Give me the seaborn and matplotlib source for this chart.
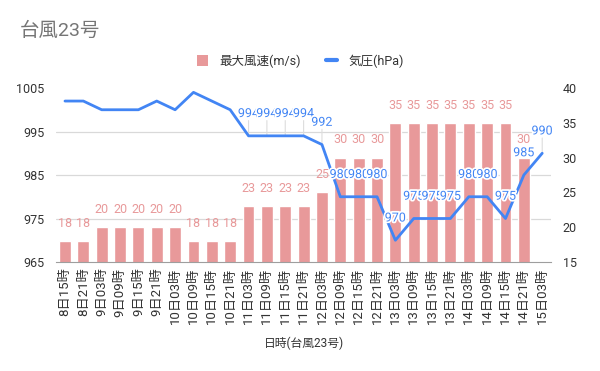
import numpy as np
import pandas as pd
import matplotlib
matplotlib.use("Agg")
import matplotlib.pyplot as plt
import matplotlib.patheffects as pe
from matplotlib.lines import Line2D
from matplotlib.patches import Patch
import seaborn as sns

# data
times = ["8日15時", "8日21時", "9日03時", "9日09時", "9日15時", "9日21時",
         "10日03時", "10日09時", "10日15時", "10日21時",
         "11日03時", "11日09時", "11日15時", "11日21時",
         "12日03時", "12日09時", "12日15時", "12日21時",
         "13日03時", "13日09時", "13日15時", "13日21時",
         "14日03時", "14日09時", "14日15時", "14日21時", "15日03時"]
wind = [18, 18, 20, 20, 20, 20, 20, 18, 18, 18,
        23, 23, 23, 23, 25, 30, 30, 30,
        35, 35, 35, 35, 35, 35, 35, 30, np.nan]
pressure = [1002, 1002, 1000, 1000, 1000, 1002, 1000, 1004, 1002, 1000,
            994, 994, 994, 994, 992, 980, 980, 980,
            970, 975, 975, 975, 980, 980, 975, 985, 990]

wind_label = "最大風速(m/s)"
press_label = "気圧(hPa)"
title = "台風23号"
xlabel = "日時(台風23号)"

bar_color = "#e8999a"
line_color = "#4285f4"
grid_color = "#d9d9d9"
text_color = "#333333"

sns.set_style("white")
plt.rcParams["font.family"] = ["Roboto", "Noto Sans CJK JP", "DejaVu Sans"]

df = pd.DataFrame({"time": times, "wind": wind, "pressure": pressure})
df["pos"] = np.arange(len(df))

fig = plt.figure(figsize=(6, 3.71), dpi=100)
ax_w = fig.add_axes([0.093, 0.2938, 0.826, 0.469])

sns.barplot(data=df, x="time", y="wind", order=times, color=bar_color,
            saturation=1, width=0.65, ax=ax_w)
for bar in ax_w.patches:
    bar.set_zorder(1)
ax_w.bar_label(ax_w.containers[0], fmt="%d", padding=8, color=bar_color, fontsize=9)
ax_w.set_ylim(15, 40)
ax_w.set_xlim(-0.5, len(times) - 0.5)
ax_w.set_ylabel("")

ax_p = ax_w.twinx()
sns.lineplot(data=df, x="pos", y="pressure", color=line_color, linewidth=2, ax=ax_p)
ax_p.set_ylim(965, 1005)
ax_p.set_yticks([965, 975, 985, 995, 1005])
ax_p.yaxis.tick_left()
ax_p.yaxis.set_label_position("left")
ax_p.tick_params(axis="y", length=0, pad=8, labelsize=9, labelcolor=text_color)
ax_p.set_ylabel("")
ax_p.set_xlabel("")
ax_p.set_xlim(-0.5, len(times) - 0.5)

# wind axis on the right (twinx moved it to the left)
ax_w.set_yticks([15, 20, 25, 30, 35, 40])
ax_w.yaxis.tick_right()
ax_w.tick_params(axis="y", length=0, pad=8, labelsize=9, labelcolor=text_color)
ax_w.tick_params(axis="x", length=0, pad=4, labelsize=9.5, labelcolor=text_color, labelrotation=90)
ax_w.set_xlabel(xlabel, fontsize=8.5, color=text_color, labelpad=9)

# gridlines follow the pressure axis but sit behind the bars
p0, p1 = ax_p.get_ylim()
w0, w1 = ax_w.get_ylim()
grid_pos = [w0 + (t - p0) / (p1 - p0) * (w1 - w0) for t in ax_p.get_yticks()]
ax_w.set_yticks(grid_pos, minor=True)
ax_w.tick_params(axis="y", which="minor", length=0, labelright=False, labelleft=False)
ax_w.grid(True, which="minor", axis="y", color=grid_color, lw=0.9)
ax_w.grid(False, which="major")
ax_w.set_axisbelow(True)

# pressure labels (only those that fit inside the plot) with leader lines
for i, p in enumerate(pressure):
    if p + 5 >= p1:
        continue
    ax_w.annotate("", xy=(i, p), xycoords=ax_p.transData, xytext=(0, 11),
                  textcoords="offset points",
                  arrowprops=dict(arrowstyle="-", color="#dddddd", lw=0.8,
                                  shrinkA=0, shrinkB=0), zorder=0.9)
    ax_p.annotate(f"{p}", xy=(i, p), xytext=(0, 16), textcoords="offset points",
                  ha="center", va="center", fontsize=9, color=line_color,
                  path_effects=[pe.withStroke(linewidth=2.5, foreground="white")])

for a in (ax_w, ax_p):
    for s in ("top", "left", "right"):
        a.spines[s].set_visible(False)
ax_w.spines["bottom"].set_color("#9e9e9e")
ax_p.spines["bottom"].set_visible(False)

fig.text(20 / 600, 1 - 31 / 371, title, fontsize=14, color="#757575", va="center", ha="left")

handles = [Patch(facecolor=bar_color, edgecolor="none"),
           Line2D([0], [0], color=line_color, lw=3)]
fig.legend(handles, [wind_label, press_label], loc="center", ncol=2,
           bbox_to_anchor=(0.5, 1 - 61 / 371), frameon=False, fontsize=9,
           handlelength=0.9, handleheight=0.9, columnspacing=2.0, handletextpad=0.9,
           labelcolor=text_color)

fig.savefig("out.png", dpi=100)
